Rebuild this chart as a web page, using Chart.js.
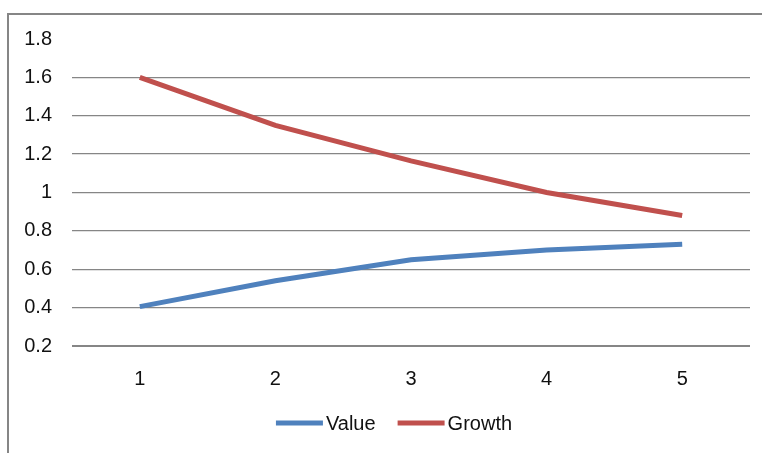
<!DOCTYPE html>
<html>
<head>
<meta charset="utf-8">
<script src="https://cdn.jsdelivr.net/npm/chart.js@4.4.1/dist/chart.umd.min.js"></script>
<style>
  html, body { margin: 0; padding: 0; background: #fff; }
  #wrap { position: relative; width: 762px; height: 453px; }
  #frame {
    position: absolute; left: 7px; top: 13px; right: -10px; bottom: -10px;
    border-top: 2px solid #868686; border-left: 2px solid #868686;
  }
  canvas { position: absolute; left: 0; top: 0; }
</style>
</head>
<body>
<div id="wrap">
  <div id="frame"></div>
  <canvas id="lineChart" width="762" height="453"></canvas>
</div>
<script>
// chart data
const categories = ["1", "2", "3", "4", "5"];
const valueSeries = [0.405, 0.54, 0.65, 0.7, 0.73];
const growthSeries = [1.6, 1.35, 1.165, 1.0, 0.88];
const yTicks = [0.2, 0.4, 0.6, 0.8, 1, 1.2, 1.4, 1.6, 1.8];

const gridGray = "#868686";
const textColor = "#111";
const fontFamily = "'Liberation Sans', Arial, sans-serif";

// legend drawn under the axis, Excel style (short thick line, label right after it)
const excelLegend = {
  id: "excelLegend",
  afterDraw(chart, args, opts) {
    const { ctx } = chart;
    const lineLen = 47;
    const gapText = 3;
    const gapItem = 22;
    ctx.save();
    ctx.font = "20px " + fontFamily;
    ctx.textBaseline = "middle";
    const items = chart.data.datasets.map(function (ds) {
      return { label: ds.label, color: ds.borderColor, w: ctx.measureText(ds.label).width };
    });
    let total = 0;
    items.forEach(function (it, i) {
      total += lineLen + gapText + it.w + (i ? gapItem : 0);
    });
    let x = opts.centerX - total / 2;
    const y = opts.y;
    items.forEach(function (it) {
      ctx.strokeStyle = it.color;
      ctx.lineWidth = 5;
      ctx.beginPath();
      ctx.moveTo(x, y);
      ctx.lineTo(x + lineLen, y);
      ctx.stroke();
      ctx.fillStyle = textColor;
      ctx.fillText(it.label, x + lineLen + gapText, y + 1);
      x += lineLen + gapText + it.w + gapItem;
    });
    ctx.restore();
  },
};

const ctx = document.getElementById("lineChart").getContext("2d");

const lineChart = new Chart(ctx, {
  type: "line",
  data: {
    labels: categories,
    datasets: [
      {
        label: "Value",
        data: valueSeries,
        borderColor: "#4f81bd",
        backgroundColor: "#4f81bd",
        borderWidth: 5,
        pointRadius: 0,
        tension: 0,
      },
      {
        label: "Growth",
        data: growthSeries,
        borderColor: "#c0504d",
        backgroundColor: "#c0504d",
        borderWidth: 5,
        pointRadius: 0,
        tension: 0,
      },
    ],
  },
  options: {
    responsive: false,
    animation: false,
    layout: {
      padding: { left: 10, right: 12, top: 39, bottom: 57 },
    },
    scales: {
      x: {
        offset: true,
        grid: { display: false },
        border: { display: false },
        ticks: {
          color: textColor,
          padding: 13,
          font: { family: fontFamily, size: 20 },
        },
        afterFit: function (scale) {
          scale.height = 50;
        },
      },
      y: {
        min: 0.2,
        max: 1.8,
        afterBuildTicks: function (scale) {
          scale.ticks = yTicks.map(function (v) { return { value: v }; });
        },
        grid: {
          drawTicks: false,
          color: function (context) {
            return context.tick && context.tick.value >= 1.8 ? "rgba(0,0,0,0)" : gridGray;
          },
          lineWidth: function (context) {
            return context.tick && context.tick.value <= 0.2 ? 2 : 1.3;
          },
        },
        border: { display: false },
        ticks: {
          color: textColor,
          padding: 20,
          font: { family: fontFamily, size: 20 },
          callback: function (value) {
            return String(Math.round(value * 10) / 10);
          },
        },
        afterFit: function (scale) {
          scale.width = 62;
        },
      },
    },
    plugins: {
      legend: { display: false },
      tooltip: { enabled: false },
      excelLegend: { centerX: 394, y: 423 },
    },
  },
  plugins: [excelLegend],
});
</script>
</body>
</html>
